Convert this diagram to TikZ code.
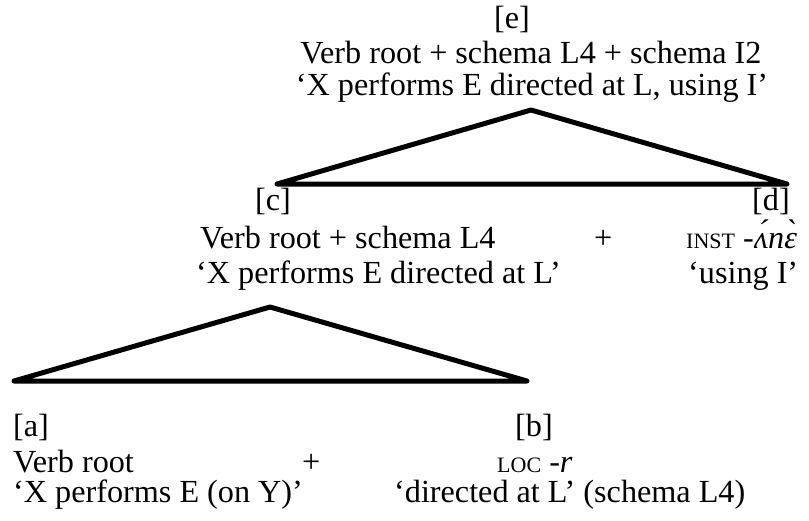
\documentclass[tikz,border=0pt]{standalone}
\usepackage{fontspec}
\setmainfont{Liberation Serif}
\newcommand{\smc}[1]{{\fontsize{22}{22}\selectfont #1}}
\begin{document}
\begin{tikzpicture}[x=1pt,y=-1pt,
  txt/.style={inner sep=0pt,font=\fontsize{32.2}{35}\selectfont},
  lw/.style={txt,anchor=base west},
  cw/.style={txt,anchor=base},
  tri/.style={line width=5pt,line join=round}]
\useasboundingbox (0,0) rectangle (809,520);
% top level [e]
\node[cw] (e) at (512,28) {[e]};
\node[cw] (e1) at (531,63) {Verb root + schema L4 + schema I2};
\node[cw] (e2) at (532,95) {‘X performs E directed at L, using I’};
\coordinate (eTop) at (531,110);
\coordinate (eL) at (277,184);
\coordinate (eR) at (787,184);
\draw[tri] (eTop) -- (eL) -- (eR) -- cycle;
% [c] and [d]
\node[lw] (c) at (255,210) {[c]};
\node[lw] (c1) at (200,248) {Verb root + schema L4};
\node[lw] (c2) at (196,283) {‘X performs E directed at L’};
\node[lw] (plus1) at (594,248) {+};
\node[lw] (d) at (752,210) {[d]};
\node[lw] (d1) at (686,248) {\smc{INST} -\textit{ʌ́nɛ̀}};
\node[lw] (d2) at (688,283) {‘using I’};
\coordinate (cTop) at (270,307);
\coordinate (cL) at (14,381);
\coordinate (cR) at (527,381);
\draw[tri] (cTop) -- (cL) -- (cR) -- cycle;
% [a] and [b]
\node[lw] (a) at (13,436) {[a]};
\node[lw] (a1) at (13,472) {Verb root};
\node[lw] (a2) at (13,502) {‘X performs E (on Y)’};
\node[lw] (plus2) at (302,472) {+};
\node[lw] (b) at (515,436) {[b]};
\node[lw] (b1) at (497,472) {\smc{LOC} -\textit{r}};
\node[lw] (b2) at (394,502) {‘directed at L’ (schema L4)};
\end{tikzpicture}
\end{document}
